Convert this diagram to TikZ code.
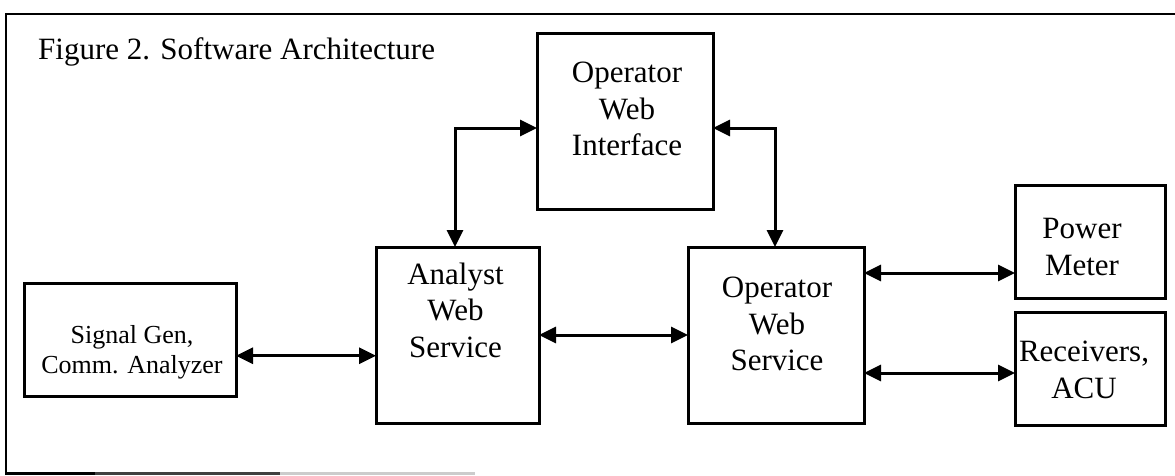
\documentclass[tikz,border=0pt]{standalone}
\usepackage{fontspec}
\setmainfont{Liberation Serif}
\usetikzlibrary{arrows.meta}
\begin{document}
\begin{tikzpicture}[x=1pt,y=-1pt,
  blk/.style n args={2}{draw, line width=3pt, minimum width=#1, minimum height=#2, inner sep=0pt, outer sep=0pt},
  lbl/.style={align=center, inner sep=0pt, font=\fontsize{31}{36.5}\selectfont},
  smalllbl/.style={align=center, inner sep=0pt, font=\fontsize{26}{30}\selectfont},
  link/.style={line width=3pt, {Triangle[length=17pt,width=16pt]}-{Triangle[length=17pt,width=16pt]}},
  framestroke/.style={line width=2.2pt}
]
\useasboundingbox (0,0) rectangle (1175,475);

% outer frame (right edge lies beyond the picture)
\draw[framestroke] (1175,14) -- (6,14) -- (6,473.5) -- (95,473.5);
\draw[framestroke, black!75] (95,473.5) -- (280,473.5);
\draw[framestroke, black!20] (280,473.5) -- (475,473.5);

% title
\node[anchor=base west, inner sep=0pt, font=\fontsize{31}{36}\selectfont] (title) at (38,59) {Figure 2. Software Architecture};

% boxes
\node[blk={176pt}{176pt}] (owi) at (625,121) {};
\node[blk={163pt}{176pt}] (ana) at (457.5,335) {};
\node[blk={176pt}{176pt}] (ows) at (776,335) {};
\node[blk={212pt}{112.5pt}] (sig) at (130,339.75) {};
\node[blk={150pt}{113pt}] (pm) at (1090,241.5) {};
\node[blk={150pt}{113pt}] (rec) at (1090,368.5) {};

% box texts
\node[lbl] (owitxt) at ([shift={(2pt,12pt)}]owi.center) {Operator\\Web\\Interface};
\node[lbl] (anatxt) at ([shift={(-2pt,25pt)}]ana.center) {Analyst\\Web\\Service};
\node[lbl] (owstxt) at ([shift={(1pt,11pt)}]ows.center) {Operator\\Web\\Service};
\node[smalllbl] (sigtxt) at ([shift={(2pt,-13pt)}]sig.center) {Signal Gen,\\Comm. Analyzer};
\node[lbl] (pmtxt) at ([shift={(-8pt,-5.5pt)}]pm.center) {Power\\Meter};
\node[lbl] (rectxt) at ([shift={(-6pt,-1.5pt)}]rec.center) {Receivers,\\ACU};

% connectors
\coordinate (owiL) at ([yshift=-7pt]owi.west);
\coordinate (owiR) at ([yshift=-7pt]owi.east);
\coordinate (anaTop) at ([xshift=-2.5pt]ana.north);
\coordinate (owsTop) at ([xshift=-1pt]ows.north);
\coordinate (sigOut) at ([yshift=-16pt]sig.east);
\coordinate (pmIn) at ([yshift=-31.5pt]pm.west);
\coordinate (recIn) at ([yshift=-4.5pt]rec.west);

\draw[link] (owiL) -| (anaTop);
\draw[link] (owiR) -| (owsTop);
\draw[link] (sigOut) -- (sigOut -| ana.west);
\draw[link] (ana.east) -- (ows.west);
\draw[link] (ows.east |- pmIn) -- (pmIn);
\draw[link] (ows.east |- recIn) -- (recIn);
\end{tikzpicture}
\end{document}
